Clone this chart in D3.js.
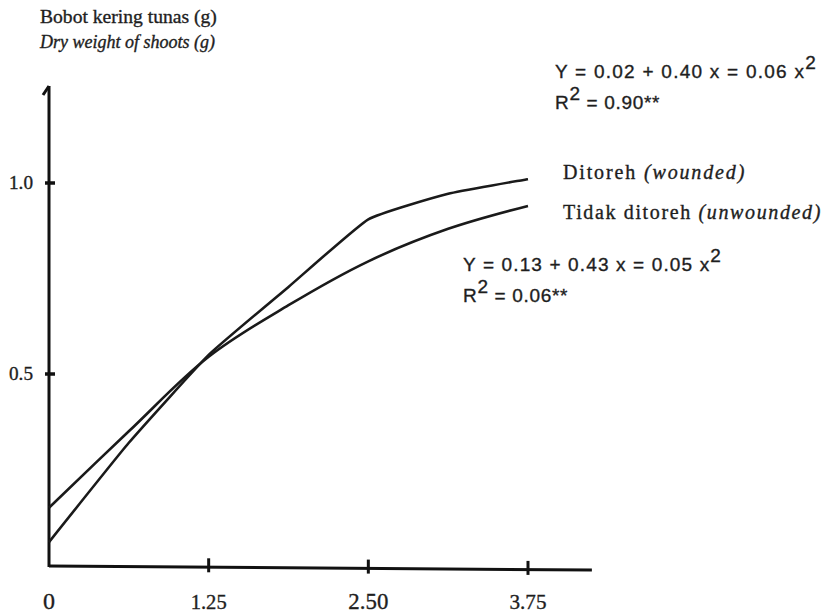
<!DOCTYPE html>
<html><head><meta charset="utf-8">
<script src="https://cdn.jsdelivr.net/npm/d3@7"></script>
<style>body{margin:0;background:#fff}svg{display:block}</style>
</head><body>
<script>
const xValues = [0, 0.625, 1.25, 1.875, 2.5, 3.125, 3.75];
const wounded = [0.06, 0.32, 0.55, 0.728, 0.905, 0.972, 1.01];
const unwounded = [0.15, 0.35, 0.545, 0.68, 0.795, 0.88, 0.94];
const xTicks = [0, 1.25, 2.5, 3.75];
const xTickLabels = ["0", "1.25", "2.50", "3.75"];
const yTicks = [0.5, 1.0];
const yTickLabels = ["0.5", "1.0"];

const W = 824, H = 613;
const svg = d3.select("body").append("svg").attr("width", W).attr("height", H);
const serif = "'Liberation Serif', 'DejaVu Serif', serif";
const sans = "'Liberation Sans', 'Open Sans', sans-serif";
const ink = "#1e1e1e";

const x = d3.scaleLinear().domain([0, 3.75]).range([49, 528]);
const y = d3.scaleLinear().domain([0, 1]).range([565, 183]);

function fit(t, target) {
  t.attr("font-size", 20);
  const w = t.node().getComputedTextLength();
  t.attr("font-size", 20 * target / w);
  return t;
}
function spread(t, size, target) {
  t.attr("font-size", size);
  const w = t.node().getComputedTextLength();
  const n = t.text().length;
  t.attr("letter-spacing", Math.max(0, (target - w) / n));
  return t;
}
function txt(x0, y0, fam) {
  return svg.append("text").attr("x", x0).attr("y", y0).attr("font-family", fam)
    .attr("fill", ink).attr("stroke", ink).attr("stroke-width", 0.35);
}

// axes
svg.append("line").attr("x1", x(0)).attr("x2", x(4.25)).attr("y1", y(0)+1).attr("y2", y(0)+5)
  .attr("stroke", "#111").attr("stroke-width", 3);
svg.append("line").attr("x1", x(0)).attr("x2", x(0)).attr("y1", y(0)+2).attr("y2", 86)
  .attr("stroke", "#111").attr("stroke-width", 3);
svg.append("path").attr("d", `M${x(0)},86 L${x(0)-6},95`).attr("stroke", "#111").attr("stroke-width", 3).attr("fill","none");

// x ticks
const xTickW = [12, 36, 40, 37];
xTicks.forEach((t, i) => {
  if (i > 0) svg.append("line").attr("x1", x(t)).attr("x2", x(t)).attr("y1", y(0)-8 + i*1.3).attr("y2", y(0)+6+i*1.3)
    .attr("stroke", "#111").attr("stroke-width", 3);
  fit(txt(x(t), 609, serif).attr("text-anchor", "middle").text(xTickLabels[i]), xTickW[i]);
});
// y ticks
yTicks.forEach((t, i) => {
  svg.append("line").attr("x1", x(0)-4).attr("x2", x(0)+6).attr("y1", y(t)).attr("y2", y(t))
    .attr("stroke", "#111").attr("stroke-width", 3.5);
  fit(txt(33, y(t)+6, serif).attr("text-anchor", "end").text(yTickLabels[i]), 24);
});

// curves
const lineW = d3.line().x((d, i) => x(xValues[i])).y(d => y(d)).curve(d3.curveCardinal.tension(0.6));
const lineU = d3.line().x((d, i) => x(xValues[i])).y(d => y(d)).curve(d3.curveCatmullRom.alpha(0.5));
svg.append("path").datum(wounded).attr("d", lineW).attr("fill", "none")
  .attr("stroke", "#1a1a1a").attr("stroke-width", 2.6).attr("stroke-linejoin", "round");
svg.append("path").datum(unwounded).attr("d", lineU).attr("fill", "none")
  .attr("stroke", "#1a1a1a").attr("stroke-width", 2.6);

// axis title
fit(txt(40, 23, serif).text("Bobot kering tunas (g)"), 177);
fit(txt(40, 48, serif).attr("font-style", "italic").text("Dry weight of shoots (g)"), 175);

// legend labels
const l1 = txt(563, 179, serif);
l1.append("tspan").text("Ditoreh  ");
l1.append("tspan").attr("font-style", "italic").text("(wounded)");
spread(l1, 20, 185);
const l2 = txt(563, 219, serif);
l2.append("tspan").text("Tidak ditoreh ");
l2.append("tspan").attr("font-style", "italic").text("(unwounded)");
spread(l2, 20, 259);

// equations
function eq(x0, y0, a, r, wA, wR) {
  const t = txt(x0, y0, sans);
  t.append("tspan").text(a);
  t.append("tspan").attr("dy", "-0.45em").text("2");
  spread(t, 19, wA);
  const t2 = txt(x0, y0 + 31, sans);
  t2.append("tspan").text("R");
  t2.append("tspan").attr("dy", "-0.45em").text("2");
  t2.append("tspan").attr("dy", "0.45em").text(" = " + r);
  spread(t2, 19, wR);
}
eq(555, 78, "Y = 0.02 + 0.40 x = 0.06 x", "0.90**", 262, 105);
eq(463, 271, "Y = 0.13 + 0.43 x = 0.05 x", "0.06**", 259, 105);
</script>
</body></html>
